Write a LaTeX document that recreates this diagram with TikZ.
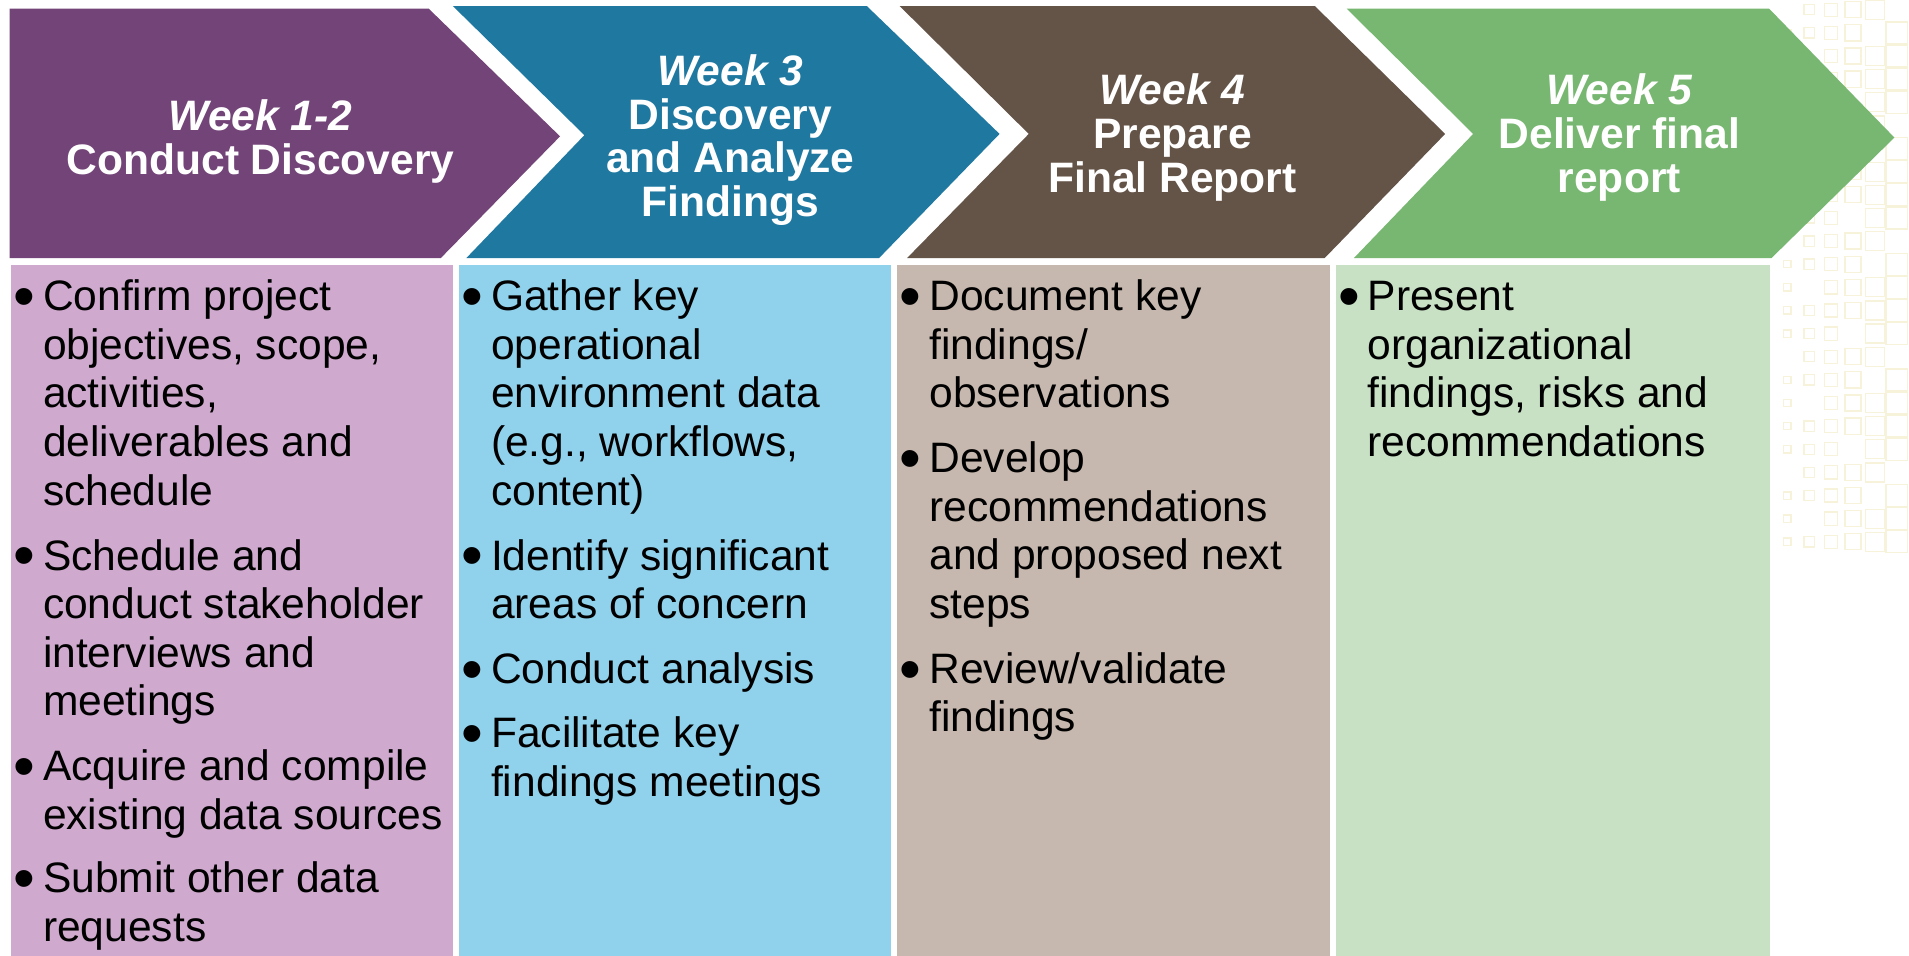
\documentclass[tikz,border=0pt]{standalone}
\usepackage{fontspec}
\setmainfont{Liberation Sans}
\definecolor{cpurple}{HTML}{734478}
\definecolor{cteal}{HTML}{1E78A0}
\definecolor{cbrown}{HTML}{645347}
\definecolor{cgreen}{HTML}{78B771}
\definecolor{lpurple}{HTML}{CFAACE}
\definecolor{lteal}{HTML}{90D1EB}
\definecolor{lbrown}{HTML}{C6B8AE}
\definecolor{lgreen}{HTML}{C8E1C5}
\definecolor{patcol}{RGB}{247,242,218}
\newcommand\bodyfnt{\fontsize{19.9pt}{22.7pt}\selectfont}
\newcommand\bulfnt{\fontsize{29pt}{30pt}\selectfont}
\newcommand\titlefnt{\fontsize{19.9pt}{20.4pt}\selectfont\bfseries}
\tikzset{
  itemtext/.style={anchor=north west, inner sep=0pt, align=left, font=\bodyfnt, text=black},
  bulletmark/.style={anchor=base, inner sep=0pt, font=\bulfnt, text=black, yshift=-3.3pt},
  titletext/.style={anchor=center, inner sep=0pt, align=center, font=\titlefnt, text=white},
  patsq/.style={draw=patcol, line width=0.6pt}
}
\begin{document}
\begin{tikzpicture}[x=0.02cm,y=-0.02cm]
\useasboundingbox (0,0) rectangle (1568,785);
\fill[white] (0,0) rectangle (1568,785);
% faint background pattern
\foreach \i in {0,...,5}{
  \foreach \j in {0,...,23}{
    \pgfmathtruncatemacro\k{mod(\i*7+\j*3+\i*\j,5)}
    \pgfmathsetmacro\s{6+2.4*\i}
    \ifnum\k>0
      \draw[patsq] ({1468+18*\i-\s/2},{8+19*\j-\s/2}) rectangle ++(\s,\s);
    \fi
  }
}
% chevrons
\fill[cpurple] (8,7) -- (352,7) -- (460,112) -- (362,212) -- (8,212) -- cycle;
\fill[cteal] (372,5) -- (712,5) -- (821,110) -- (722,212) -- (383,212) -- (480,111) -- cycle;
\fill[cbrown] (739,5) -- (1080,5) -- (1187,110) -- (1088,212) -- (745,212) -- (845,110) -- cycle;
\fill[cgreen] (1106,7) -- (1453,7) -- (1556,113) -- (1455,212) -- (1112,212) -- (1210,110) -- cycle;
% light boxes
\fill[lpurple] (9,218) rectangle (372,785);
\fill[lteal] (377,218) rectangle (732,785);
\fill[lbrown] (737,218) rectangle (1092,785);
\fill[lgreen] (1097,218) rectangle (1454,785);
% titles
\node[titletext] (t1) at (214,116) {\itshape Week 1-2\\Conduct Discovery};
\node[titletext] (t2) at (600,115) {\itshape Week 3\\Discovery\\and Analyze\\Findings};
\node[titletext] (t3) at (963,113) {\itshape Week 4\\Prepare\\Final Report};
\node[titletext] (t4) at (1330,113) {\itshape Week 5\\Deliver final\\report};
% column 1
\node[bulletmark] (b11) at (20,255) {•};
\node[itemtext] (i11) at (35,227) {\strut Confirm project\\objectives, scope,\\activities,\\deliverables and\\schedule};
\node[bulletmark] (b12) at (20,468) {•};
\node[itemtext] (i12) at (35,440) {\strut Schedule and\\conduct stakeholder\\interviews and\\meetings};
\node[bulletmark] (b13) at (20,641) {•};
\node[itemtext] (i13) at (35,613) {\strut Acquire and compile\\existing data sources};
\node[bulletmark] (b14) at (20,733) {•};
\node[itemtext] (i14) at (35,705) {\strut Submit other data\\requests};
% column 2
\node[bulletmark] (b21) at (388,255) {•};
\node[itemtext] (i21) at (403,227) {\strut Gather key\\operational\\environment data\\(e.g., workflows,\\content)};
\node[bulletmark] (b22) at (388,468) {•};
\node[itemtext] (i22) at (403,440) {\strut Identify significant\\areas of concern};
\node[bulletmark] (b23) at (388,561) {•};
\node[itemtext] (i23) at (403,533) {\strut Conduct analysis};
\node[bulletmark] (b24) at (388,614) {•};
\node[itemtext] (i24) at (403,586) {\strut Facilitate key\\findings meetings};
% column 3
\node[bulletmark] (b31) at (748,255) {•};
\node[itemtext] (i31) at (763,227) {\strut Document key\\findings/\\observations};
\node[bulletmark] (b32) at (748,388) {•};
\node[itemtext] (i32) at (763,360) {\strut Develop\\recommendations\\and proposed next\\steps};
\node[bulletmark] (b33) at (748,561) {•};
\node[itemtext] (i33) at (763,533) {\strut Review/validate\\findings};
% column 4
\node[bulletmark] (b41) at (1108,255) {•};
\node[itemtext] (i41) at (1123,227) {\strut Present\\organizational\\findings, risks and\\recommendations};
\end{tikzpicture}
\end{document}
